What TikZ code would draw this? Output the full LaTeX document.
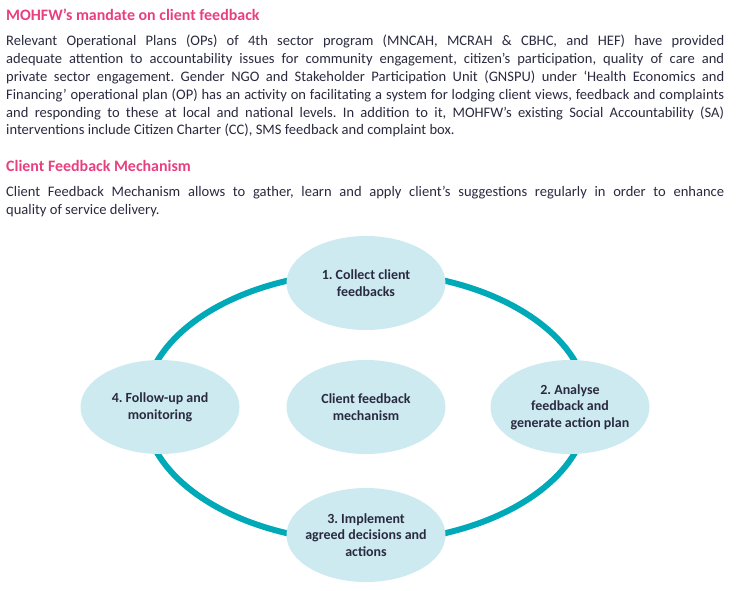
\documentclass[tikz,border=0pt]{standalone}
\usepackage{fontspec}
\setmainfont{Carlito}
\newfontfamily\bodyfont{Carlito}
\usepackage{xcolor}
\usetikzlibrary{shapes.geometric, positioning, backgrounds}
\definecolor{headpink}{HTML}{E8407F}
\definecolor{ringteal}{HTML}{00A9B8}
\definecolor{bubblefill}{HTML}{CCEAF0}
\definecolor{inktext}{HTML}{2A2A3F}
\frenchspacing

\begin{document}
\begin{tikzpicture}[x=1bp, y=-1bp,
    heading/.style={anchor=base west, inner sep=0pt, text=headpink, font=\bfseries\fontsize{16}{18}\selectfont},
    para/.style={anchor=base west, inner sep=0pt, text width=718bp, align=justify, text=inktext, font=\bodyfont\fontsize{14.6}{17.9}\selectfont},
    bubble/.style={ellipse, fill=bubblefill, minimum width=159bp, minimum height=94bp, inner xsep=-8bp, inner ysep=0pt, align=center, text=inktext, font=\bfseries\fontsize{14}{16.7}\selectfont},
    ring/.style={draw=ringteal, line width=6bp}]
    \useasboundingbox (0,0) rectangle (736,591);
    
    \node[heading] (mandate) at (6, 20.7) {MOHFW’s mandate on client feedback};
    \node[para] (mandatetext) at (6, 45.7) {Relevant Operational Plans (OPs) of 4th sector program (MNCAH, MCRAH \& CBHC, and HEF) have provided\linebreak
        adequate attention to accountability issues for community engagement, citizen’s participation, quality of care and\linebreak
        private sector engagement. Gender NGO and Stakeholder Participation Unit (GNSPU) under ‘Health Economics and\linebreak
        Financing’ operational plan (OP) has an activity on facilitating a system for lodging client views, feedback and complaints\linebreak
        and responding to these at local and national levels. In addition to it, MOHFW’s existing Social Accountability (SA)\linebreak
        interventions include Citizen Charter (CC), SMS feedback and complaint box.};
    
    \node[heading] (mechanism) at (6, 171.7) {Client Feedback Mechanism};
    \node[para] (mechanismtext) at (6, 196.7) {Client Feedback Mechanism allows to gather, learn and apply client’s suggestions regularly in order to enhance\linebreak
        quality of service delivery.};
    
    \node[bubble] (hub) at (366, 407) {Client feedback\\mechanism};
    \node[bubble] (collect) at (366, 283) {1. Collect client\\feedbacks};
    \node[bubble] (analyse) at (570, 407) {2. Analyse\\feedback and\\generate action plan};
    \node[bubble] (implement) at (366, 535) {3. Implement\\agreed decisions and\\actions};
    \node[bubble] (follow) at (160, 407) {4. Follow-up and\\monitoring};
    
    \begin{pgfonlayer}{background}
        \draw[ring] (hub.center) ellipse [x radius=222, y radius=135];
    \end{pgfonlayer}
\end{tikzpicture}
\end{document}
